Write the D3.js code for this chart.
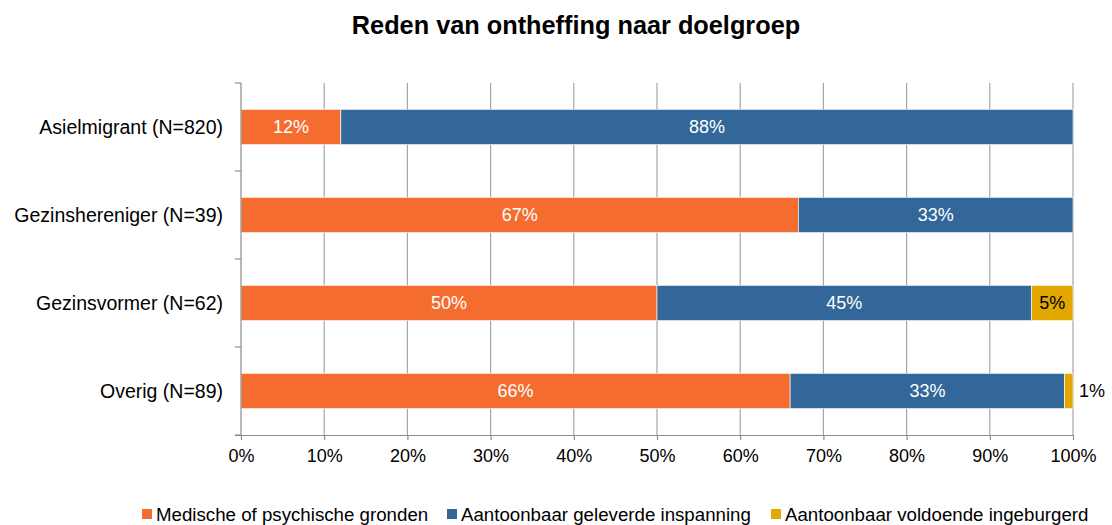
<!DOCTYPE html>
<html>
<head>
<meta charset="utf-8">
<script src="https://cdn.jsdelivr.net/npm/d3@7"></script>
<style>
  body { margin: 0; background: #fff; }
  svg { display: block; font-family: "Liberation Sans", Arial, sans-serif; }
</style>
</head>
<body>
<svg id="chart" width="1112" height="525"></svg>
<script>
// Doelgroepen en percentages per reden van ontheffing
const categories = ["Asielmigrant (N=820)", "Gezinshereniger (N=39)", "Gezinsvormer (N=62)", "Overig (N=89)"];
const seriesNames = ["Medische of psychische gronden", "Aantoonbaar geleverde inspanning", "Aantoonbaar voldoende ingeburgerd"];
const medisch = [12, 67, 50, 66];
const inspanning = [88, 33, 45, 33];
const ingeburgerd = [0, 0, 5, 1];
const tickValues = [0, 10, 20, 30, 40, 50, 60, 70, 80, 90, 100];
const colors = ["#F46D2F", "#336699", "#E2A700"];

const svg = d3.select("#chart");
const margin = { left: 241, right: 39, top: 83, bottom: 90 };
const W = 1112, H = 525;

const x = d3.scaleLinear().domain([0, 100]).range([margin.left, W - margin.right]);
const y = d3.scaleBand().domain(categories).range([margin.top, H - margin.bottom]).paddingInner(0.6).paddingOuter(0.3);

// Titel
svg.append("text")
  .attr("x", 576).attr("y", 34)
  .attr("text-anchor", "middle")
  .attr("font-size", 25.3).attr("font-weight", "bold").attr("fill", "#000")
  .text("Reden van ontheffing naar doelgroep");

// Verticale rasterlijnen
svg.append("g").selectAll("line").data(tickValues.slice(1)).join("line")
  .attr("x1", d => x(d)).attr("x2", d => x(d))
  .attr("y1", margin.top).attr("y2", H - margin.bottom)
  .attr("stroke", "#A6A6A6").attr("stroke-width", 1.2);

// Gestapelde balken
const stackData = categories.map((c, i) => ({ cat: c, s0: medisch[i], s1: inspanning[i], s2: ingeburgerd[i] }));
const stack = d3.stack().keys(["s0", "s1", "s2"])(stackData);

const layers = svg.append("g").selectAll("g").data(stack).join("g")
  .attr("fill", (d, i) => colors[i]);

layers.selectAll("rect").data(d => d.filter(p => p[1] > p[0])).join("rect")
  .attr("x", p => x(p[0]))
  .attr("width", p => x(p[1]) - x(p[0]))
  .attr("y", p => y(p.data.cat))
  .attr("height", y.bandwidth())
  .attr("stroke", "#fff").attr("stroke-width", 0.6);

// Labels bij de segmenten
stack.forEach((layer, li) => {
  layer.forEach(p => {
    const v = p[1] - p[0];
    if (v <= 0) return;
    const narrow = x(p[1]) - x(p[0]) < 25;
    svg.append("text")
      .attr("x", narrow ? x(p[1]) + 6 : (x(p[0]) + x(p[1])) / 2)
      .attr("y", y(p.data.cat) + y.bandwidth() / 2)
      .attr("dy", "0.36em")
      .attr("text-anchor", narrow ? "start" : "middle")
      .attr("font-size", 18)
      .attr("fill", li === 2 ? "#000" : "#fff")
      .text(v + "%");
  });
});

// Assen
const axisColor = "#8C8C8C";
const xAxis = svg.append("g")
  .attr("transform", `translate(0,${H - margin.bottom})`)
  .call(d3.axisBottom(x).tickValues(tickValues).tickFormat(d => d + "%").tickSize(5).tickSizeOuter(0));
xAxis.select(".domain").attr("d", `M${margin.left - 6},0.5H${W - margin.right}`).attr("stroke", axisColor).attr("stroke-width", 1.2);
xAxis.selectAll(".tick line").attr("stroke", axisColor).attr("stroke-width", 1.2);
xAxis.selectAll(".tick text").attr("font-size", 18).attr("fill", "#000").attr("y", 27).attr("dy", 0)
  .attr("font-family", "'Liberation Sans', Arial, sans-serif");

const yAxis = svg.append("g").attr("transform", `translate(${margin.left},0)`);
yAxis.append("line")
  .attr("x1", 0).attr("x2", 0).attr("y1", margin.top).attr("y2", H - margin.bottom)
  .attr("stroke", axisColor).attr("stroke-width", 1.2);
const boundaryY = d3.range(categories.length + 1).map(i => margin.top + i * (H - margin.bottom - margin.top) / categories.length);
yAxis.selectAll("line.tk").data(boundaryY).join("line").attr("class", "tk")
  .attr("x1", -6).attr("x2", 0).attr("y1", d => d).attr("y2", d => d)
  .attr("stroke", axisColor).attr("stroke-width", 1.2);
yAxis.selectAll("text").data(categories).join("text")
  .attr("x", -18).attr("y", d => y(d) + y.bandwidth() / 2).attr("dy", "0.36em")
  .attr("text-anchor", "end").attr("font-size", 19.5).attr("fill", "#000")
  .text(d => d);

// Legenda
const legendX = [142, 447, 771];
const legend = svg.append("g").selectAll("g").data(seriesNames).join("g")
  .attr("transform", (d, i) => `translate(${legendX[i]},521)`);
legend.append("rect").attr("x", 0).attr("y", -12).attr("width", 10).attr("height", 10)
  .attr("fill", (d, i) => colors[i]);
legend.append("text").attr("x", 14).attr("y", 0)
  .attr("font-size", 18.7).attr("fill", "#000").text(d => d);
</script>
</body>
</html>
